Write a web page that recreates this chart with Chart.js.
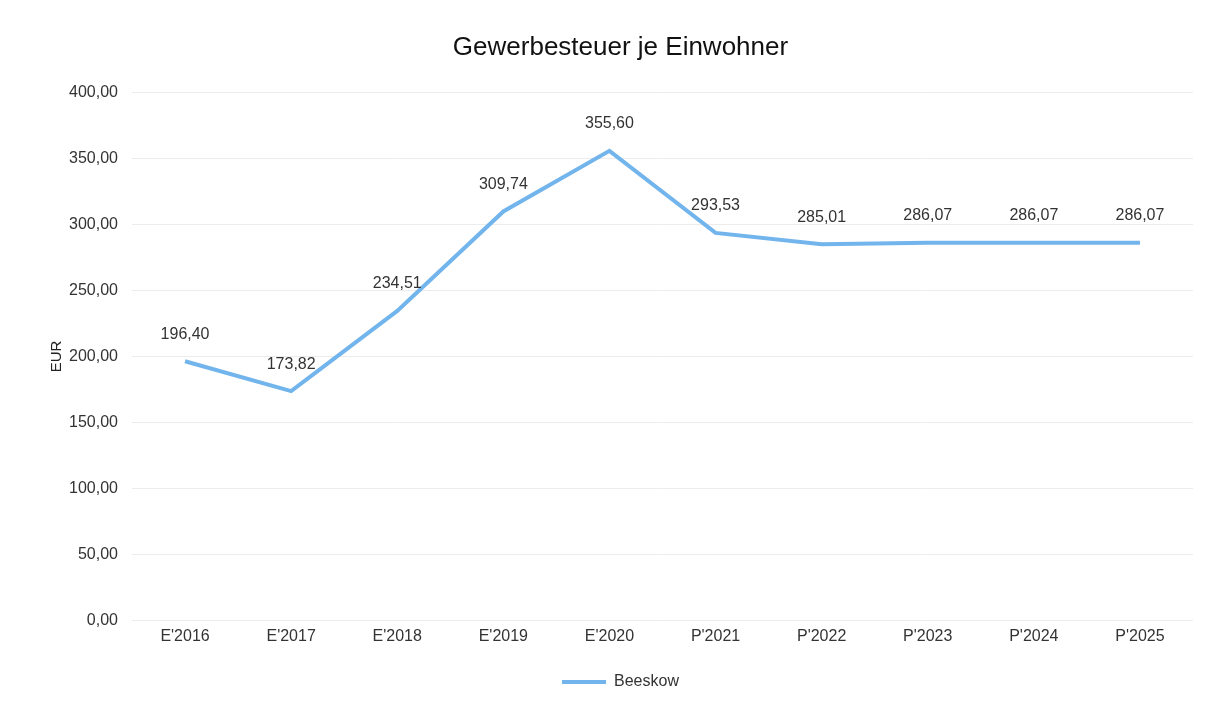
<!DOCTYPE html>
<html><head><meta charset="utf-8">
<script src="https://cdn.jsdelivr.net/npm/chart.js@4/dist/chart.umd.min.js"></script>
<style>html,body{margin:0;padding:0;background:#fff;}#wrap{width:1217px;height:709px;}</style>
</head><body><div id="wrap"><canvas id="c" width="1217" height="709"></canvas></div>
<script>
const categories = ["E'2016","E'2017","E'2018","E'2019","E'2020","P'2021","P'2022","P'2023","P'2024","P'2025"];
const beeskow = [196.40,173.82,234.51,309.74,355.60,293.53,285.01,286.07,286.07,286.07];
const yTicks = [0,50,100,150,200,250,300,350,400];

const fmt = v => v.toFixed(2).replace('.', ',');
const FONT = "'Liberation Sans', Arial, sans-serif";

const labelPlugin = {
  id: 'valueLabels',
  afterDatasetsDraw(chart) {
    const ctx = chart.ctx;
    const meta = chart.getDatasetMeta(0);
    ctx.save();
    ctx.font = '16px ' + FONT;
    ctx.fillStyle = '#333';
    ctx.textAlign = 'center';
    ctx.textBaseline = 'middle';
    meta.data.forEach((pt, i) => {
      ctx.fillText(fmt(beeskow[i]), pt.x, pt.y - 27);
    });
    ctx.restore();
  }
};

new Chart(document.getElementById('c'), {
  type: 'line',
  data: {
    labels: categories,
    datasets: [{
      label: 'Beeskow',
      data: beeskow,
      borderColor: '#72b4ec',
      backgroundColor: '#72b4ec',
      borderWidth: 4,
      pointRadius: 0,
      pointStyle: 'line',
      tension: 0
    }]
  },
  options: {
    responsive: false,
    animation: false,
    layout: { padding: { top: 18, left: 48, right: 24, bottom: 9 } },
    plugins: {
      title: {
        display: true,
        text: 'Gewerbesteuer je Einwohner',
        color: '#111',
        font: { family: FONT, size: 26, weight: 'normal' },
        padding: { top: 14, bottom: 29 }
      },
      legend: {
        position: 'bottom',
        labels: {
          usePointStyle: true,
          pointStyle: 'line',
          pointStyleWidth: 44,
          color: '#333',
          font: { family: FONT, size: 16 },
          padding: 22
        }
      },
      tooltip: { enabled: false }
    },
    scales: {
      x: {
        offset: true,
        grid: { display: false, drawTicks: false },
        border: { display: false },
        ticks: { color: '#333', font: { family: FONT, size: 16 }, padding: 6 }
      },
      y: {
        min: 0, max: 400,
        afterBuildTicks(scale) { scale.ticks = yTicks.map(v => ({ value: v })); },
        afterFit(scale) { scale.width = 84; },
        grid: { color: '#ececec', drawTicks: false },
        border: { display: false },
        title: { display: true, text: 'EUR', color: '#222', font: { family: FONT, size: 15 }, padding: { top: 0, bottom: 6 } },
        ticks: { color: '#333', font: { family: FONT, size: 16 }, padding: 14, callback: v => fmt(v) }
      }
    }
  },
  plugins: [labelPlugin]
});
</script></body></html>
